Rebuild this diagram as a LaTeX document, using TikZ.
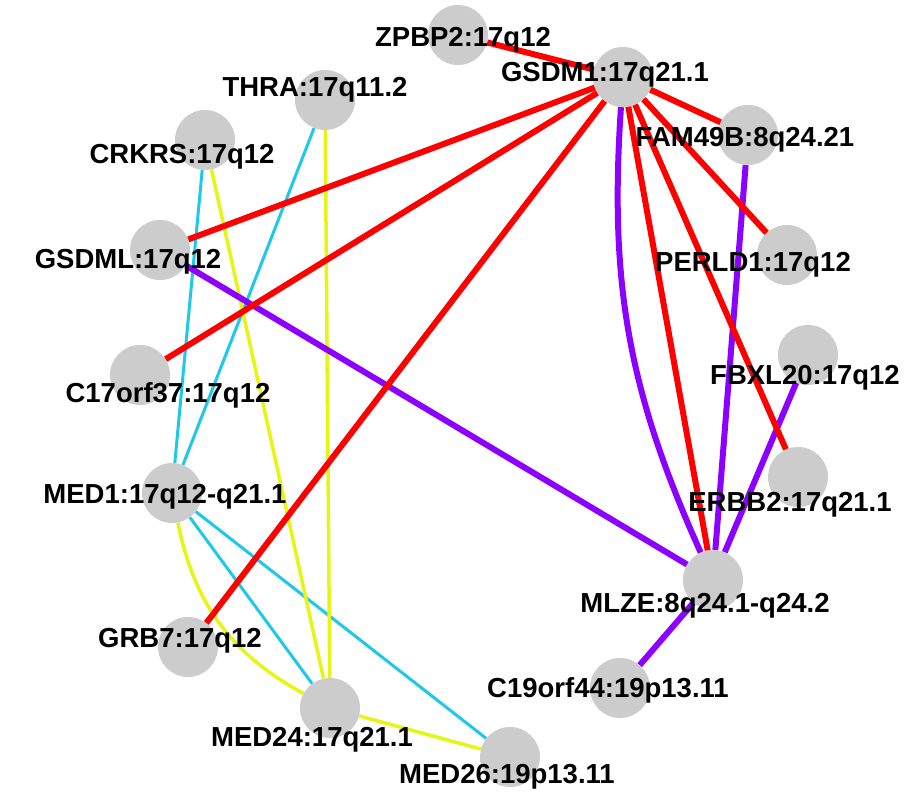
\documentclass[tikz,border=0pt]{standalone}
\usepackage{fontspec}
\setmainfont{Liberation Sans}
\begin{document}
\begin{tikzpicture}[x=1pt,y=-1pt,
  gn/.style={circle,fill=black!20,minimum size=60pt,inner sep=0pt},
  lb/.style={font=\fontsize{27.5}{30}\selectfont\bfseries,inner sep=0pt},
  re/.style={red,line width=6pt},
  pu/.style={color={rgb,255:red,140;green,0;blue,255},line width=6pt},
  cy/.style={color={rgb,255:red,30;green,200;blue,235},line width=3pt},
  ye/.style={color={rgb,255:red,230;green,245;blue,20},line width=3.5pt}]
\useasboundingbox (0,0) rectangle (922,800);
\node[gn] (zpbp2) at (458,35) {};
\node[gn] (gsdm1) at (623,77) {};
\node[gn] (thra) at (325,100) {};
\node[gn] (crkrs) at (205,140) {};
\node[gn] (fam49b) at (748,135) {};
\node[gn] (gsdml) at (160,250) {};
\node[gn] (perld1) at (787,255) {};
\node[gn] (c17) at (140,375) {};
\node[gn] (fbxl20) at (808,355) {};
\node[gn] (med1) at (172,493) {};
\node[gn] (erbb2) at (798,477) {};
\node[gn] (mlze) at (713,580) {};
\node[gn] (grb7) at (188,647) {};
\node[gn] (c19) at (620,688) {};
\node[gn] (med24) at (330,708) {};
\node[gn] (med26) at (510,757) {};
% edges
\draw[cy] (crkrs) -- (med1);
\draw[cy] (thra) -- (med1);
\draw[cy] (med1) -- (med24);
\draw[cy] (med1) -- (med26);
\draw[ye] (crkrs) -- (med24);
\draw[ye] (thra) -- (med24);
\draw[ye] (med1) to[bend right=25] (med24);
\draw[ye] (med24) -- (med26);
\draw[pu] (gsdml) -- (mlze);
\draw[pu] (gsdm1) to[bend right=14] (mlze);
\draw[pu] (fam49b) -- (mlze);
\draw[pu] (fbxl20) -- (mlze);
\draw[pu] (c19) -- (mlze);
\draw[re] (gsdm1) -- (zpbp2);
\draw[re] (gsdm1) -- (fam49b);
\draw[re] (gsdm1) -- (perld1);
\draw[re] (gsdm1) -- (erbb2);
\draw[re] (gsdm1) -- (mlze);
\draw[re] (gsdm1) -- (gsdml);
\draw[re] (gsdm1) -- (c17);
\draw[re] (gsdm1) -- (grb7);
% labels
\node[lb] (l1) at (463,40) {ZPBP2:17q12};
\node[lb] (l2) at (605,75) {GSDM1:17q21.1};
\node[lb] (l3) at (315,90) {THRA:17q11.2};
\node[lb] (l4) at (182,157) {CRKRS:17q12};
\node[lb] (l5) at (745,140) {FAM49B:8q24.21};
\node[lb] (l6) at (128,262) {GSDML:17q12};
\node[lb] (l7) at (753,265) {PERLD1:17q12};
\node[lb] (l8) at (168,395) {C17orf37:17q12};
\node[lb] (l9) at (805,378) {FBXL20:17q12};
\node[lb] (l10) at (165,497) {MED1:17q12-q21.1};
\node[lb] (l11) at (790,505) {ERBB2:17q21.1};
\node[lb] (l12) at (705,606) {MLZE:8q24.1-q24.2};
\node[lb] (l13) at (180,641) {GRB7:17q12};
\node[lb] (l14) at (608,690) {C19orf44:19p13.11};
\node[lb] (l15) at (312,740) {MED24:17q21.1};
\node[lb] (l16) at (507,777) {MED26:19p13.11};
\end{tikzpicture}
\end{document}
